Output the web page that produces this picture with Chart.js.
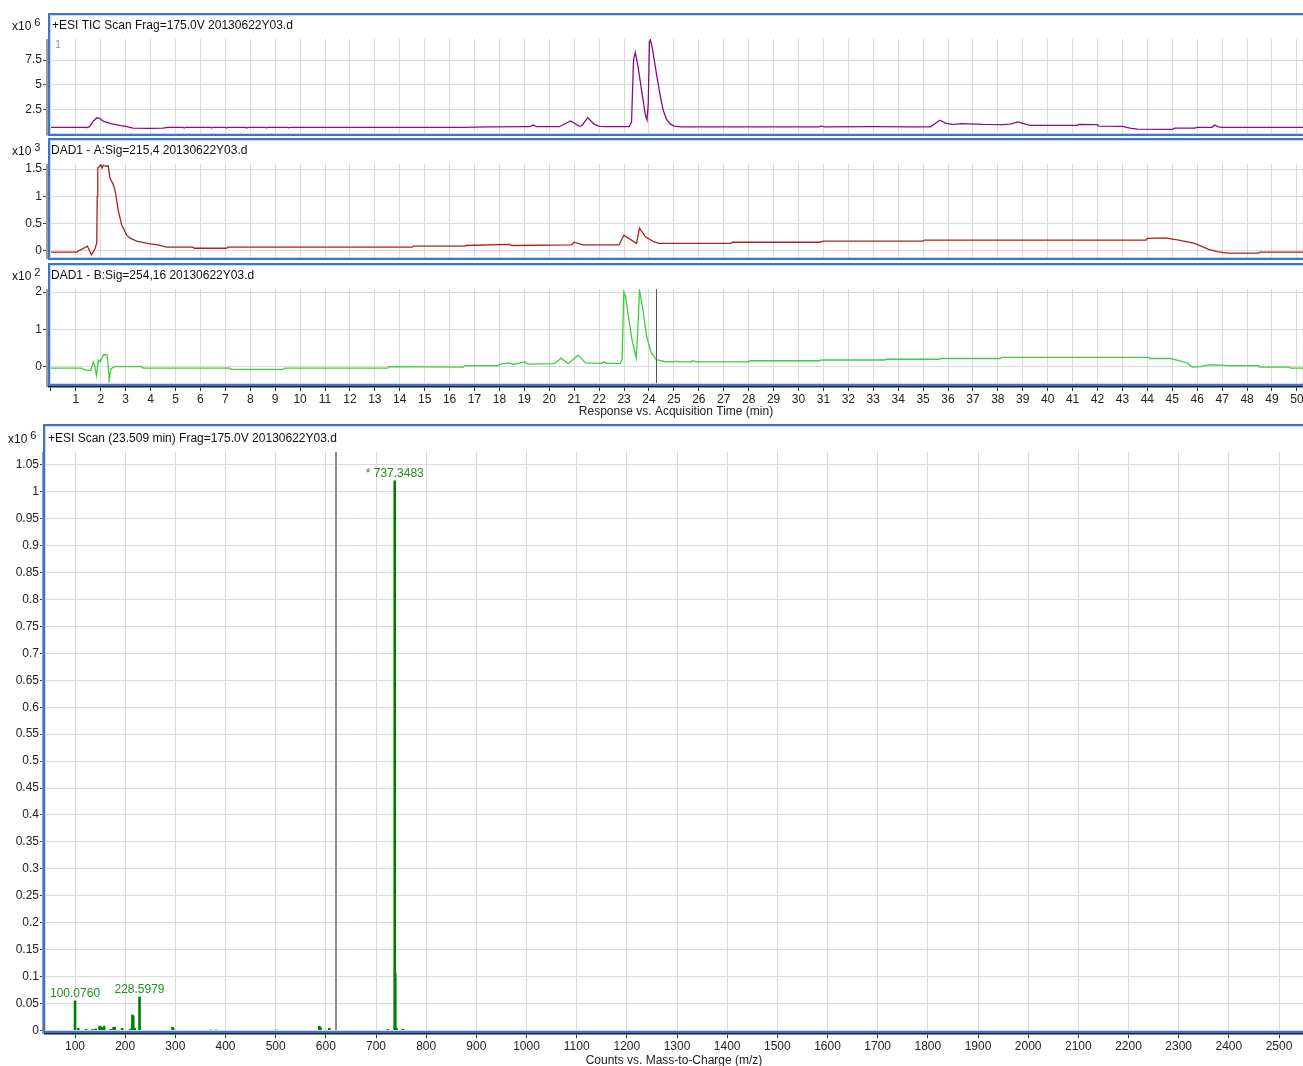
<!DOCTYPE html>
<html><head><meta charset="utf-8">
<script src="https://cdn.jsdelivr.net/npm/chart.js@4.4.0/dist/chart.umd.min.js"></script>
<style>
html,body{margin:0;padding:0;background:#fff;overflow:hidden;width:1303px;height:1066px;}
canvas{position:absolute;left:0;}
.frame{position:absolute;border:2px solid #3b76cc;box-shadow:inset 0 0 0 1px #c6d8f3;pointer-events:none;box-sizing:border-box;}
</style></head><body>
<canvas id="c1"></canvas>
<canvas id="c2"></canvas>
<canvas id="c3"></canvas>
<canvas id="c4"></canvas>
<div class="frame" style="left:48px;top:13px;width:1280px;height:123px"></div>
<div class="frame" style="left:48px;top:138px;width:1280px;height:122px"></div>
<div class="frame" style="left:48px;top:263px;width:1280px;height:123px"></div>
<div class="frame" style="left:43px;top:424px;width:1285px;height:609px"></div>
<script>
// ---------- DATA ----------
const timeTicks = [0,1,2,3,4,5,6,7,8,9,10,11,12,13,14,15,16,17,18,19,20,21,22,23,24,25,26,27,28,29,30,31,32,33,34,35,36,37,38,39,40,41,42,43,44,45,46,47,48,49,50];
const mzTicks = [100,200,300,400,500,600,700,800,900,1000,1100,1200,1300,1400,1500,1600,1700,1800,1900,2000,2100,2200,2300,2400,2500];
const ticYTicks = [2.5,5,7.5];
const dadAYTicks = [0,0.5,1,1.5];
const dadBYTicks = [0,1,2];
const msYTicks = [0,0.05,0.1,0.15,0.2,0.25,0.3,0.35,0.4,0.45,0.5,0.55,0.6,0.65,0.7,0.75,0.8,0.85,0.9,0.95,1,1.05];

// TIC (x10^6)
const ticTime = [0,1.2,1.45,1.55,1.7,1.85,1.95,2.1,2.4,2.8,3.0,3.3,4.0,4.5,4.7,5.3,5.35,5.4,6.4,6.45,6.5,7.0,7.05,7.1,7.8,7.85,7.9,8.6,8.65,8.7,9.5,9.55,9.6,16.5,17.6,19.2,19.35,19.5,20.4,20.85,21.2,21.3,21.54,21.8,22.0,22.3,23.2,23.3,23.38,23.45,23.55,23.7,23.85,23.92,23.97,24.02,24.06,24.15,24.3,24.45,24.57,24.7,24.84,25.0,25.3,30.85,30.9,31.05,33.0,34.5,35.3,35.5,35.67,35.9,36.2,36.5,37.4,38.2,38.5,38.8,39.1,39.3,41.2,41.25,42.0,42.05,43.0,43.3,43.6,45.0,45.1,45.9,46.0,46.6,46.7,46.85,47.0,50.3];
const ticCounts = [0.68,0.68,0.66,0.75,1.3,1.65,1.6,1.3,1.05,0.85,0.78,0.6,0.57,0.6,0.68,0.68,0.6,0.68,0.68,0.6,0.68,0.68,0.61,0.68,0.68,0.61,0.68,0.68,0.62,0.68,0.68,0.62,0.68,0.68,0.72,0.74,0.91,0.74,0.74,1.32,0.8,0.82,1.65,1.0,0.78,0.74,0.74,1.2,7.5,8.28,7.0,4.5,2.0,1.42,3.0,9.3,9.55,8.5,6.1,3.9,2.4,1.5,1.05,0.8,0.72,0.72,0.82,0.72,0.75,0.73,0.73,1.1,1.4,1.1,0.95,1.05,0.97,0.95,1.0,1.23,1.0,0.88,0.88,0.97,0.95,0.8,0.78,0.6,0.5,0.48,0.6,0.6,0.68,0.68,0.9,0.72,0.67,0.67];

// DAD1 A (x10^3)
const dadATime = [0,1.03,1.46,1.63,1.78,1.84,1.86,1.88,1.95,2.0,2.05,2.1,2.2,2.3,2.37,2.5,2.57,2.65,2.7,2.84,3.04,3.2,3.44,3.97,4.3,4.64,5.7,5.75,7.05,7.1,14.5,14.55,16.6,16.65,18.4,18.5,20.9,21.0,21.35,22.8,22.99,23.5,23.62,23.86,24.19,24.4,27.3,27.35,30.85,31.0,35.0,35.05,43.95,44.0,44.7,45.26,45.9,46.46,46.8,47.2,48.47,48.5,50.3];
const dadAValue = [-0.02,-0.02,0.09,-0.07,0.05,0.15,1.0,1.52,1.55,1.58,1.52,1.57,1.55,1.56,1.33,1.22,1.12,0.9,0.75,0.48,0.29,0.23,0.18,0.13,0.11,0.07,0.07,0.05,0.05,0.07,0.07,0.09,0.09,0.1,0.12,0.1,0.11,0.16,0.11,0.11,0.29,0.14,0.42,0.26,0.17,0.14,0.14,0.16,0.16,0.18,0.18,0.2,0.2,0.23,0.24,0.2,0.14,0.03,-0.01,-0.04,-0.04,-0.02,-0.02];

// DAD1 B (x10^2)
const dadBTime = [0,1.23,1.3,1.43,1.6,1.7,1.76,1.83,1.9,1.97,2.03,2.1,2.13,2.24,2.28,2.34,2.41,2.57,3.64,3.7,7.18,7.25,9.3,9.4,13.5,13.6,16.55,16.6,17.97,18.0,18.4,18.55,19.0,19.15,20.2,20.48,20.76,21.15,21.46,22.1,22.18,22.3,22.85,22.92,22.99,23.05,23.31,23.49,23.55,23.62,23.75,23.9,24.08,24.3,24.62,25.0,25.1,25.2,25.7,25.75,25.9,28.0,28.05,30.85,30.9,33.47,33.5,35.65,35.7,38.1,38.15,44.06,44.1,44.93,45.26,45.6,45.8,46.13,46.46,47.1,47.15,48.47,48.5,49.7,49.75,50.3];
const dadBValue = [-0.04,-0.04,-0.07,-0.1,-0.1,0.13,0.02,-0.23,0.17,0.13,0.21,0.3,0.33,0.32,0.2,-0.37,-0.05,0,0,-0.04,-0.04,-0.07,-0.07,-0.04,-0.04,0,-0.01,0.03,0.03,0.06,0.1,0.06,0.13,0.07,0.08,0.23,0.08,0.31,0.1,0.09,0.13,0.09,0.09,0.2,2.0,1.91,0.75,0.23,0.96,2.05,1.56,0.84,0.39,0.19,0.14,0.13,0.15,0.13,0.13,0.16,0.13,0.13,0.16,0.16,0.18,0.18,0.2,0.2,0.22,0.22,0.25,0.25,0.22,0.22,0.16,0.1,-0.01,0.0,0.05,0.04,0.03,0.03,-0.01,-0.01,-0.04,-0.04];
const dadBCursorTime = 24.27;

// Mass spectrum at 23.509 min (x10^6)
const msMz = [100.076,106.5,122,135,141,149,151,153,158,171,174,177,179,194,210,213,214.5,216,219,228.598,294.5,296,370,382,500.5,587,589.5,607,723.5,737.348,738.35,741,754];
const msCounts = [0.055,0.004,0.002,0.002,0.003,0.008,0.007,0.005,0.008,0.002,0.002,0.006,0.006,0.004,0.002,0.003,0.029,0.027,0.004,0.062,0.006,0.003,0.001,0.001,0.001,0.008,0.005,0.004,0.002,1.02,0.106,0.004,0.002];
const msLabelMz = [100.076,228.598,737.348];
const msLabelCounts = [0.055,0.062,1.02];
const msLabelText = ['100.0760','228.5979','* 737.3483'];
const msCursorMz = 619.7;

// ---------- RENDER ----------
const FONT = '"Liberation Sans", Arial, Helvetica, sans-serif';
Chart.defaults.font.family = FONT;
Chart.defaults.font.size = 12;
Chart.defaults.color = '#222';
const GRID = '#dadada';

function makeOverlay(cfg){
  return {
    id:'overlay_'+cfg.id,
    afterDraw(chart){
      const ctx = chart.ctx, a = chart.chartArea, t = cfg.canvasTop;
      ctx.save();
      ctx.fillStyle = '#9c9c9c';
      ctx.fillRect(a.left-3, a.top, 2, a.bottom-a.top);
      ctx.fillStyle = '#111';
      ctx.textAlign = 'left';
      ctx.textBaseline = 'middle';
      ctx.font = '12px '+FONT;
      ctx.fillText(cfg.title, cfg.titleX, cfg.titleY - t);
      ctx.fillText('x10', cfg.expX, cfg.titleY + 1 - t);
      const w = ctx.measureText('x10').width;
      ctx.font = '11px '+FONT;
      ctx.fillText(cfg.exp, cfg.expX + w + 3, cfg.titleY - 3 - t);
      if (cfg.extra) cfg.extra(chart, ctx);
      ctx.restore();
    }
  };
}

function build(cfg){
  const c = document.getElementById(cfg.id);
  c.width = 1303; c.height = cfg.height;
  c.style.top = cfg.canvasTop + 'px';
  const xh = cfg.xAxisH;
  new Chart(c, {
    type: cfg.type,
    data: {datasets: cfg.datasets},
    options: {
      responsive:false, animation:false, events:[],
      layout:{padding:{left:0,right:0,top:cfg.area.top-cfg.canvasTop,bottom:cfg.canvasTop+cfg.height-cfg.area.bottom-xh}},
      plugins:{legend:{display:false}, tooltip:{enabled:false}},
      scales:{
        x:{
          type:'linear', min:cfg.xmin, max:cfg.xmax, offset:false,
          afterBuildTicks:s=>{ s.ticks = cfg.xTicks.map(v=>({value:v})); },
          afterFit:s=>{ s.height = xh; s.paddingLeft = 0; s.paddingRight = 0; },
          grid:{color:GRID, lineWidth:1, offset:false, drawTicks:cfg.showX, tickColor:'#333', tickLength:4},
          border:{display:cfg.showX, color:'#222', width:1.5},
          ticks:{display:cfg.showX, autoSkip:false, maxRotation:0, minRotation:0, padding:1, color:'#222', font:{size:12},
                 callback:(v)=> (v===0 ? '' : String(v))},
          title:{display:!!cfg.xTitle, text:cfg.xTitle||'', color:'#222', font:{size:12}, padding:{top:0,bottom:cfg.xTitlePad||0}}
        },
        y:{
          type:'linear', min:cfg.ymin, max:cfg.ymax,
          afterBuildTicks:s=>{ s.ticks = cfg.yTicks.map(v=>({value:v})); },
          afterFit:s=>{ s.width = cfg.area.left; s.paddingTop = 0; s.paddingBottom = 0; },
          grid:{color:GRID, lineWidth:1, drawTicks:true, tickColor:'#444', tickLength:cfg.yTickLen||5},
          border:{display:false},
          ticks:{padding:1, color:'#222', font:{size:12}, callback:(v)=>String(v)}
        }
      }
    },
    plugins:[makeOverlay(cfg)]
  });
}

function pts(xs, ys){ return xs.map((x,i)=>({x:x, y:ys[i]})); }
const lineDs = (xs, ys, color) => ({data:pts(xs,ys), borderColor:color, borderWidth:1.3, pointRadius:0, tension:0, fill:false});

// time-axis mapping: t=0 at x=50.9, 24.92 px per minute; plot from x=49 to 1303
const T_MIN = -0.076, T_MAX = 50.245;

build({id:'c1', type:'line', canvasTop:0, height:137, area:{left:49, top:39, bottom:135.5}, xAxisH:0,
  xmin:T_MIN, xmax:T_MAX, xTicks:timeTicks.slice(1), showX:false,
  ymin:-0.15, ymax:9.63, yTicks:ticYTicks, yTickLen:6,
  datasets:[lineDs(ticTime, ticCounts, '#8b0a8b')],
  title:'+ESI TIC Scan Frag=175.0V 20130622Y03.d', titleX:52, titleY:26, expX:12, exp:'6',
  extra:(chart, ctx)=>{
    const a = chart.chartArea;
    ctx.fillStyle = '#999'; ctx.font = '11px '+FONT; ctx.textAlign='left'; ctx.textBaseline='middle';
    ctx.fillText('1', a.left+6, a.top+6);
  }
});

build({id:'c2', type:'line', canvasTop:137, height:123, area:{left:49, top:164, bottom:259}, xAxisH:0,
  xmin:T_MIN, xmax:T_MAX, xTicks:timeTicks.slice(1), showX:false,
  ymin:-0.147, ymax:1.593, yTicks:dadAYTicks, yTickLen:6,
  datasets:[lineDs(dadATime, dadAValue, '#a82222')],
  title:'DAD1 - A:Sig=215,4 20130622Y03.d', titleX:51, titleY:151, expX:12, exp:'3'
});

build({id:'c3', type:'line', canvasTop:260, height:160, area:{left:49, top:289, bottom:387}, xAxisH:33,
  xmin:T_MIN, xmax:T_MAX, xTicks:timeTicks, showX:true, xTitle:'Response vs. Acquisition Time (min)', xTitlePad:1,
  ymin:-0.544, ymax:2.083, yTicks:dadBYTicks, yTickLen:6,
  datasets:[lineDs(dadBTime, dadBValue, '#3ccf3c')],
  title:'DAD1 - B:Sig=254,16 20130622Y03.d', titleX:51, titleY:276, expX:12, exp:'2',
  extra:(chart, ctx)=>{
    const a = chart.chartArea, x = Math.round(chart.scales.x.getPixelForValue(dadBCursorTime))+0.5;
    ctx.strokeStyle = '#555'; ctx.lineWidth = 1;
    ctx.beginPath(); ctx.moveTo(x, a.top); ctx.lineTo(x, a.bottom-4); ctx.stroke();
  }
});

build({id:'c4', type:'bar', canvasTop:420, height:660, area:{left:45, top:452, bottom:1034}, xAxisH:46,
  xmin:40.2, xmax:2547.8, xTicks:mzTicks, showX:true, xTitle:'Counts vs. Mass-to-Charge (m/z)', xTitlePad:12,
  ymin:-0.0065, ymax:1.0737, yTicks:msYTicks, yTickLen:5,
  datasets:[{data:pts(msMz, msCounts), backgroundColor:'#008000', borderWidth:0, barThickness:2, grouped:false}],
  title:'+ESI Scan (23.509 min) Frag=175.0V 20130622Y03.d', titleX:48, titleY:439, expX:8, exp:'6',
  extra:(chart, ctx)=>{
    const a = chart.chartArea, xs = chart.scales.x, ys = chart.scales.y;
    const cx = Math.round(xs.getPixelForValue(msCursorMz));
    ctx.fillStyle = '#8c8c8c'; ctx.fillRect(cx-1, a.top, 2, a.bottom-a.top-2);
    ctx.fillStyle = '#1f8f1f'; ctx.font = '12px '+FONT; ctx.textAlign='center'; ctx.textBaseline='alphabetic';
    msLabelMz.forEach((m,i)=>{
      ctx.fillText(msLabelText[i], xs.getPixelForValue(m), ys.getPixelForValue(msLabelCounts[i]) - 4);
    });
  }
});
</script>
</body></html>
